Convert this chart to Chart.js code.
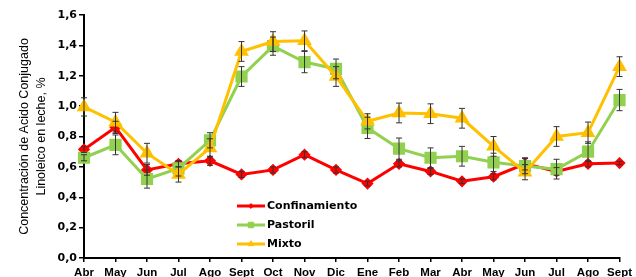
<!DOCTYPE html>
<html>
<head>
<meta charset="utf-8">
<script src="https://cdn.jsdelivr.net/npm/chart.js@4/dist/chart.umd.min.js"></script>
<style>
  html, body { margin: 0; padding: 0; background: #fff; }
  #wrap { width: 636px; height: 277px; }
</style>
</head>
<body>
<div id="wrap"><canvas id="canvas" width="636" height="277"></canvas></div>
<script>
// datos
var meses = ["Abr", "May", "Jun", "Jul", "Ago", "Sept", "Oct", "Nov", "Dic", "Ene", "Feb", "Mar", "Abr", "May", "Jun", "Jul", "Ago", "Sept"];
var confinamiento = [0.715, 0.86, 0.58, 0.62, 0.64, 0.55, 0.58, 0.68, 0.58, 0.49, 0.62, 0.57, 0.505, 0.535, 0.62, 0.57, 0.62, 0.625];
var confinamientoErr = [0.02, 0.04, 0.035, 0.02, 0.03, 0.02, 0.02, 0.02, 0.02, 0.015, 0.02, 0.02, 0.015, 0.02, 0.04, 0.025, 0.02, 0.01];
var pastoril = [0.66, 0.745, 0.52, 0.59, 0.775, 1.195, 1.395, 1.29, 1.245, 0.857, 0.72, 0.66, 0.67, 0.63, 0.605, 0.585, 0.70, 1.04];
var pastorilErr = [0.02, 0.065, 0.06, 0.05, 0.05, 0.065, 0.06, 0.07, 0.065, 0.07, 0.07, 0.065, 0.065, 0.06, 0.05, 0.065, 0.065, 0.07];
var mixto = [0.995, 0.894, 0.69, 0.55, 0.725, 1.36, 1.425, 1.43, 1.195, 0.90, 0.955, 0.95, 0.92, 0.735, 0.565, 0.80, 0.825, 1.26];
var mixtoErr = [0.06, 0.065, 0.065, 0.05, 0.06, 0.065, 0.065, 0.065, 0.065, 0.05, 0.065, 0.065, 0.065, 0.065, 0.05, 0.065, 0.07, 0.065];
var yTicks = [0, 0.2, 0.4, 0.6, 0.8, 1.0, 1.2, 1.4, 1.6];

var fuente = 'Arial, "Liberation Sans", sans-serif';
var fuenteAncha = '"DejaVu Sans", Arial, sans-serif';

// barras de error + leyenda dentro del grafico
var extras = {
    id: 'extras',
    afterDatasetsDraw: function (chart) {
        var ctx = chart.ctx;
        var y = chart.scales.y;
        var x = chart.scales.x;
        ctx.save();
        ctx.strokeStyle = '#333';
        ctx.lineWidth = 1;
        chart.data.datasets.forEach(function (ds) {
            ds.data.forEach(function (v, i) {
                var e = ds.err[i];
                var px = x.getPixelForValue(i);
                var top = y.getPixelForValue(v + e);
                var bot = y.getPixelForValue(v - e);
                ctx.beginPath();
                ctx.moveTo(px, top); ctx.lineTo(px, bot);
                ctx.moveTo(px - 3, top); ctx.lineTo(px + 3, top);
                ctx.moveTo(px - 3, bot); ctx.lineTo(px + 3, bot);
                ctx.stroke();
            });
        });
        // leyenda
        var lx = 237, ly = 206;
        ctx.font = 'bold 11px ' + fuenteAncha;
        ctx.textBaseline = 'middle';
        chart.data.datasets.forEach(function (ds, k) {
            var yy = ly + k * 19;
            ctx.strokeStyle = ds.borderColor;
            ctx.lineWidth = 3;
            ctx.beginPath();
            ctx.moveTo(lx, yy); ctx.lineTo(lx + 28, yy);
            ctx.stroke();
            ctx.fillStyle = ds.borderColor;
            ctx.lineWidth = 1;
            Chart.helpers.drawPoint(ctx, {pointStyle: ds.pointStyle, radius: ds.pointRadius * 0.6, borderWidth: 1}, lx + 14, yy);
            ctx.fillStyle = '#000';
            ctx.fillText(ds.label, lx + 30, yy + 0.5);
        });
        ctx.restore();
    }
};

var config = {
    type: 'line',
    data: {
        labels: meses,
        datasets: [{
                label: "Confinamiento",
                data: confinamiento,
                err: confinamientoErr,
                borderColor: '#FF0000',
                backgroundColor: '#FF0000',
                pointBackgroundColor: '#FF0000',
                pointBorderColor: '#FF0000',
                pointStyle: 'rectRot',
                pointRadius: 4,
                borderWidth: 3,
                order: 2
            }, {
                label: "Pastoril",
                data: pastoril,
                err: pastorilErr,
                borderColor: '#92D050',
                backgroundColor: '#92D050',
                pointBackgroundColor: '#92D050',
                pointBorderColor: '#92D050',
                pointStyle: 'rect',
                pointRadius: 6.5,
                borderWidth: 3,
                order: 1
            }, {
                label: "Mixto",
                data: mixto,
                err: mixtoErr,
                borderColor: '#FFC000',
                backgroundColor: '#FFC000',
                pointBackgroundColor: '#FFC000',
                pointBorderColor: '#FFC000',
                pointStyle: 'triangle',
                pointRadius: 5.5,
                borderWidth: 3,
                order: 0
            }]
    },
    options: {
        responsive: false,
        animation: false,
        devicePixelRatio: 1,
        layout: {
            padding: {left: 0, top: 15, right: 16, bottom: 0}
        },
        plugins: {
            legend: {display: false},
            tooltip: {enabled: false}
        },
        scales: {
            x: {
                offset: false,
                grid: {drawOnChartArea: false, drawTicks: true, tickLength: 4, color: '#000', lineWidth: 1.5},
                border: {color: '#000', width: 2},
                ticks: {
                    color: '#000',
                    font: {family: fuente, size: 11.5, weight: 'bold'},
                    padding: 4,
                    maxRotation: 0,
                    autoSkip: false
                },
                afterFit: function (scale) { scale.height = 19; }
            },
            y: {
                min: 0,
                max: 1.6,
                afterBuildTicks: function (scale) {
                    scale.ticks = yTicks.map(function (v) { return {value: v}; });
                },
                grid: {drawOnChartArea: false, drawTicks: true, tickLength: 5, color: '#000', lineWidth: 1.5},
                border: {color: '#000', width: 2},
                ticks: {
                    color: '#000',
                    padding: 2,
                    font: {family: fuenteAncha, size: 11, weight: 'bold'},
                    callback: function (v) { return v.toFixed(1).replace('.', ','); }
                },
                title: {
                    display: true,
                    text: ['Concentración de Acido Conjugado', 'Linoleico en leche, %'],
                    color: '#000',
                    font: {family: fuente, size: 12.5, lineHeight: 1.35},
                    padding: {top: 16, bottom: 0}
                },
                afterFit: function (scale) { scale.width = 84; }
            }
        }
    },
    plugins: [extras]
};

window.onload = function () {
    window.myLine = new Chart(document.getElementById("canvas"), config);
};
</script>
</body>
</html>
